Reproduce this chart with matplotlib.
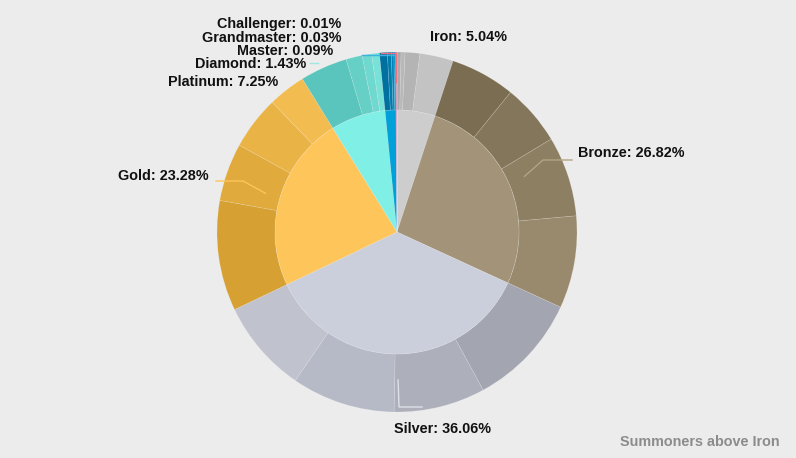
import numpy as np
import matplotlib.pyplot as plt

# tiers (inner pie)
tiers = ['Iron', 'Bronze', 'Silver', 'Gold', 'Platinum', 'Diamond',
         'Master', 'Grandmaster', 'Challenger']
tier_pct = [5.04, 26.82, 36.06, 23.28, 7.25, 1.43, 0.09, 0.03, 0.01]
tier_colors = ['#cdcdcd', '#a39479', '#cbcfdb', '#fec55a', '#80efe5',
               '#00a0d8', '#8e5bc4', '#e0505a', '#f07080']

# divisions (outer ring), per tier
div_pct = [
    [0.36, 0.36, 1.32, 3.00],      # Iron
    [5.83, 5.50, 7.20, 8.29],      # Bronze
    [10.20, 8.20, 9.30, 8.36],     # Silver
    [9.90, 5.20, 4.80, 3.38],      # Gold
    [4.25, 1.45, 0.85, 0.70],      # Platinum
    [0.70, 0.35, 0.23, 0.15],      # Diamond
    [0.09], [0.03], [0.01],
]
div_colors = [
    ['#aaaaaa', '#b8b8b8', '#b4b4b4', '#c3c3c3'],
    ['#7b6d52', '#84765a', '#8d7f62', '#9a8a6d'],
    ['#a3a6b1', '#adb0bb', '#b6b9c6', '#c0c3ce'],
    ['#d6a033', '#e0aa3d', '#e9b346', '#f2bc50'],
    ['#5ac5bc', '#66cfc6', '#6fd8cf', '#78e1d8'],
    ['#0070a0', '#007bab', '#0086b8', '#0091c4'],
    ['#7a4aa8'], ['#d04050'], ['#f07080'],
]

W, H = 796, 458
BG = '#ececec'


def px(x, y):
    # pixel coords (y down) -> data coords (y up)
    return x, H - y


cx, cy = px(397, 232)
R_OUT, R_IN = 180, 122

fig = plt.figure(figsize=(W / 100, H / 100), dpi=100, facecolor=BG)
ax = fig.add_axes([0, 0, 1, 1])
ax.set_facecolor(BG)

edge = dict(edgecolor=(1, 1, 1, 0.18), linewidth=0.5)

outer_vals = [v for d in div_pct for v in d]
outer_cols = [c for d in div_colors for c in d]
ax.pie(outer_vals, colors=outer_cols, radius=R_OUT, center=(cx, cy),
       startangle=90, counterclock=False,
       wedgeprops=dict(width=R_OUT - R_IN, **edge))
ax.pie(tier_pct, colors=tier_colors, radius=R_IN, center=(cx, cy),
       startangle=90, counterclock=False, wedgeprops=edge)

# mid angle of each tier (degrees clockwise from top)
cum = np.cumsum([0] + tier_pct)
total = cum[-1]
mid = (cum[:-1] + cum[1:]) / 2 / total * 360


def point(ang, r):
    a = np.deg2rad(90 - ang)
    return cx + r * np.cos(a), cy + r * np.sin(a)


FAM = ['Liberation Sans', 'DejaVu Sans']
lab_font = dict(fontsize=10.4, fontweight='bold', family=FAM,
                color='#111111', va='center')

# label positions (pixels), alignment, and connector elbow
labels = {
    'Iron':        ((430, 37), 'left', None),
    'Bronze':      ((578, 153), 'left', (543, 160, 572, 160)),
    'Silver':      ((443, 429), 'center', (399, 407, 422, 407)),
    'Gold':        ((209, 176), 'right', (243, 181, 216, 181)),
    'Platinum':    ((278, 82), 'right', None),
    'Diamond':     ((306, 64), 'right', None),
    'Master':      ((333, 51), 'right', None),
    'Grandmaster': ((341, 38), 'right', None),
    'Challenger':  ((341, 24), 'right', None),
}
line_cols = {'Bronze': '#b3a384', 'Silver': '#dde0e8', 'Gold': '#fec55a'}
anchor_r = {'Bronze': 139, 'Silver': 148, 'Gold': 137}

for i, t in enumerate(tiers):
    (lx, ly), ha, elbow = labels[t]
    ax.text(*px(lx, ly), f'{t}: {tier_pct[i]:.2f}%', ha=ha, **lab_font)
    if elbow is not None:
        ax_, ay_ = point(mid[i], anchor_r[t])
        ex, ey = px(elbow[0], elbow[1])
        fx, fy = px(elbow[2], elbow[3])
        ax.plot([ax_, ex, fx], [ay_, ey, fy], color=line_cols[t], lw=1)

# faint connectors of the small top slices
ax.plot(*zip(px(310, 63), px(318, 63)), color='#9fe8e0', lw=1)
ax.plot(*zip(px(362, 55), px(395, 55)), color='#40b0e0', lw=1)
ax.plot(*zip(px(381, 53), px(396, 53), px(396, 82)), color='#f07080', lw=1)

ax.text(*px(780, 442), 'Summoners above Iron', ha='right', va='center',
        fontsize=10.4, fontweight='bold', color='#8c8c8c', family=FAM)

ax.set_xlim(0, W)
ax.set_ylim(0, H)
ax.set_aspect('equal')
ax.axis('off')

fig.savefig('out.png', dpi=100, facecolor=BG)
